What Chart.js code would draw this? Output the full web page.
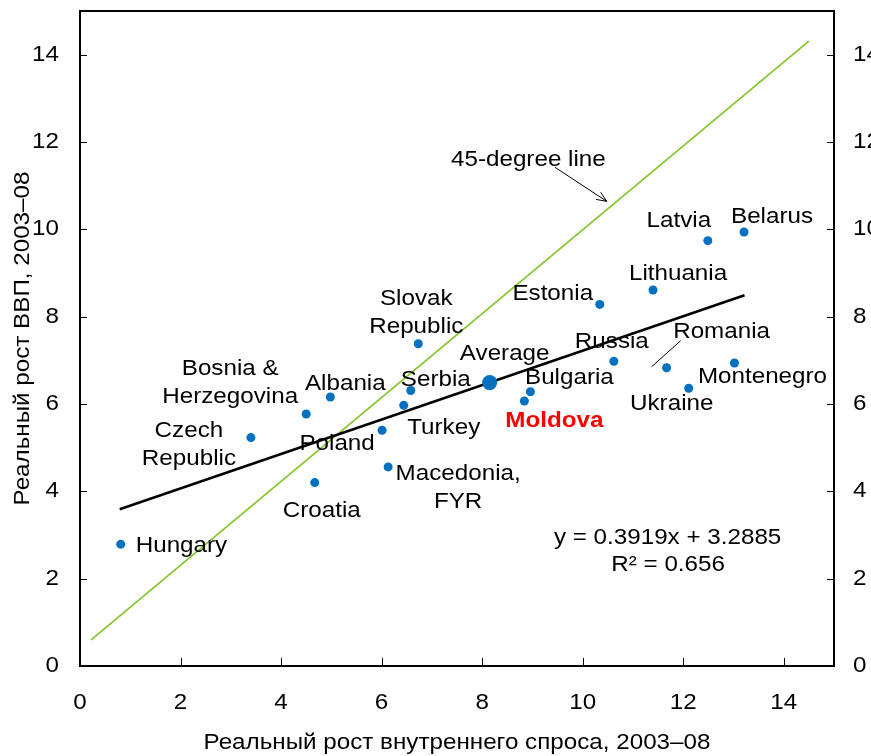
<!DOCTYPE html>
<html>
<head>
<meta charset="utf-8">
<script src="https://cdn.jsdelivr.net/npm/chart.js@4.4.1/dist/chart.umd.min.js"></script>
<style>
  html, body { margin: 0; padding: 0; background: #fff; }
  #wrap { width: 871px; height: 756px; }
</style>
</head>
<body>
<div id="wrap"><canvas id="chart"></canvas></div>
<script>
// Реальный рост внутреннего спроса (x) и ВВП (y), 2003–08
const countries = ['Hungary', 'Czech Republic', 'Bosnia & Herzegovina', 'Albania', 'Slovak Republic',
  'Serbia', 'Turkey', 'Poland', 'Macedonia, FYR', 'Croatia', 'Bulgaria', 'Moldova', 'Russia',
  'Romania', 'Ukraine', 'Montenegro', 'Estonia', 'Lithuania', 'Latvia', 'Belarus'];
const demandGrowth = [0.81, 3.40, 4.50, 4.98, 6.73, 6.58, 6.44, 6.01, 6.13, 4.67, 8.96, 8.84, 10.62,
  11.67, 12.11, 13.02, 10.34, 11.40, 12.49, 13.21];
const gdpGrowth = [2.79, 5.23, 5.77, 6.16, 7.38, 6.31, 5.97, 5.40, 4.56, 4.20, 6.28, 6.07, 6.98,
  6.83, 6.36, 6.94, 8.28, 8.61, 9.74, 9.94];

const averageX = [8.15];
const averageY = [6.49];

// линия тренда и линия 45 градусов (концы)
const trendX = [0.79, 13.22];
const trendY = [3.59, 8.49];
const diagX = [0.22, 14.50];
const diagY = [0.60, 14.31];

const xTicks = [0, 2, 4, 6, 8, 10, 12, 14];
const yTicks = [0, 2, 4, 6, 8, 10, 12, 14];

const xTitle = 'Реальный рост внутреннего спроса, 2003–08';
const yTitle = 'Реальный рост ВВП, 2003–08';
const equationText = 'y = 0.3919x + 3.2885';
const r2Text = 'R² = 0.656';
const diagText = '45-degree line';

// подписи стран: текст (по строкам) и сдвиг центра подписи от точки в пикселях
const labelLayout = {
  'Hungary': { lines: ['Hungary'], dx: 15, dy: 2, align: 'left' },
  'Czech Republic': { lines: ['Czech', 'Republic'], dx: -62, dy: 7 },
  'Bosnia & Herzegovina': { lines: ['Bosnia &', 'Herzegovina'], dx: -76, dy: -31 },
  'Albania': { lines: ['Albania'], dx: 15, dy: -13 },
  'Slovak Republic': { lines: ['Slovak', 'Republic'], dx: -2, dy: -31 },
  'Serbia': { lines: ['Serbia'], dx: 25, dy: -11 },
  'Turkey': { lines: ['Turkey'], dx: 40, dy: 23 },
  'Poland': { lines: ['Poland'], dx: -45, dy: 14 },
  'Macedonia, FYR': { lines: ['Macedonia,', 'FYR'], dx: 70, dy: 21 },
  'Croatia': { lines: ['Croatia'], dx: 7, dy: 28 },
  'Bulgaria': { lines: ['Bulgaria'], dx: 39, dy: -14 },
  'Moldova': { lines: ['Moldova'], dx: 30, dy: 20, bold: true, color: '#ff0000' },
  'Russia': { lines: ['Russia'], dx: -2, dy: -19 },
  'Romania': { lines: ['Romania'], dx: 55, dy: -36, leader: [-15, -1, 14, -27] },
  'Ukraine': { lines: ['Ukraine'], dx: -17, dy: 16 },
  'Montenegro': { lines: ['Montenegro'], dx: 28, dy: 14 },
  'Estonia': { lines: ['Estonia'], dx: -47, dy: -11 },
  'Lithuania': { lines: ['Lithuania'], dx: 25, dy: -16 },
  'Latvia': { lines: ['Latvia'], dx: -29, dy: -20 },
  'Belarus': { lines: ['Belarus'], dx: 28, dy: -15 }
};

const FONT = '"Liberation Sans", Arial, sans-serif';
const TXT = '22px ' + FONT;
const STRETCH = 1.1; // текст в оригинале чуть растянут по ширине
const BLUE = '#0070c0';
const GREEN = '#7dc41e';

function toPoints(xs, ys) {
  return xs.map((x, i) => ({ x: x, y: ys[i] }));
}

function drawText(ctx, text, x, y, align, font, color, rotate) {
  ctx.save();
  ctx.font = font || TXT;
  ctx.fillStyle = color || '#000';
  ctx.textAlign = align || 'center';
  ctx.textBaseline = 'middle';
  ctx.translate(x, y);
  if (rotate) ctx.rotate(rotate);
  ctx.scale(STRETCH, 1);
  ctx.fillText(text, 0, 0);
  ctx.restore();
}

const decorPlugin = {
  id: 'decor',
  afterDatasetsDraw(chart) {
    const ctx = chart.ctx;
    const area = chart.chartArea;
    const xs = chart.scales.x, ys = chart.scales.y;

    // рамка и внутренние засечки
    ctx.save();
    ctx.strokeStyle = '#000';
    ctx.lineWidth = 2;
    ctx.strokeRect(area.left, area.top, area.right - area.left, area.bottom - area.top);
    ctx.lineWidth = 1;
    ctx.beginPath();
    yTicks.forEach(v => {
      const py = Math.round(ys.getPixelForValue(v)) + 0.5;
      ctx.moveTo(area.left, py); ctx.lineTo(area.left + 7, py);
      ctx.moveTo(area.right - 7, py); ctx.lineTo(area.right, py);
    });
    xTicks.forEach(v => {
      const px = Math.round(xs.getPixelForValue(v)) + 0.5;
      ctx.moveTo(px, area.bottom); ctx.lineTo(px, area.bottom - 8);
    });
    ctx.stroke();
    ctx.restore();

    // подписи делений
    yTicks.forEach(v => {
      const py = ys.getPixelForValue(v);
      drawText(ctx, String(v), area.left - 21, py, 'right');
      drawText(ctx, String(v), area.right + 19, py, 'left');
    });
    xTicks.forEach(v => {
      drawText(ctx, String(v), xs.getPixelForValue(v), area.bottom + 37, 'center');
    });

    // названия осей
    drawText(ctx, xTitle, (area.left + area.right) / 2, 743, 'center');
    drawText(ctx, yTitle, 22.5, (area.top + area.bottom) / 2, 'center', TXT, '#000', -Math.PI / 2);

    // подписи стран
    const lineH = 28;
    countries.forEach((name, i) => {
      const cfg = labelLayout[name];
      const px = xs.getPixelForValue(demandGrowth[i]);
      const py = ys.getPixelForValue(gdpGrowth[i]);
      const font = (cfg.bold ? 'bold ' : '') + TXT;
      const n = cfg.lines.length;
      cfg.lines.forEach((line, k) => {
        const ly = py + cfg.dy + (k - (n - 1) / 2) * lineH;
        drawText(ctx, line, px + cfg.dx, ly, cfg.align, font, cfg.color);
      });
      if (cfg.leader) {
        ctx.save();
        ctx.strokeStyle = '#000';
        ctx.lineWidth = 1;
        ctx.beginPath();
        ctx.moveTo(px + cfg.leader[0], py + cfg.leader[1]);
        ctx.lineTo(px + cfg.leader[2], py + cfg.leader[3]);
        ctx.stroke();
        ctx.restore();
      }
    });

    // средняя
    drawText(ctx, 'Average', xs.getPixelForValue(averageX[0]) + 15,
      ys.getPixelForValue(averageY[0]) - 29, 'center');

    // 45-degree line с указателем
    drawText(ctx, diagText, xs.getPixelForValue(8.92), ys.getPixelForValue(11.58), 'center');
    const ax0 = xs.getPixelForValue(9.45), ay0 = ys.getPixelForValue(11.42);
    const ax1 = xs.getPixelForValue(10.48), ay1 = ys.getPixelForValue(10.64);
    const ang = Math.atan2(ay1 - ay0, ax1 - ax0);
    ctx.save();
    ctx.strokeStyle = '#000';
    ctx.lineWidth = 1;
    ctx.beginPath();
    ctx.moveTo(ax0, ay0); ctx.lineTo(ax1, ay1);
    ctx.moveTo(ax1 - 11 * Math.cos(ang - 0.4), ay1 - 11 * Math.sin(ang - 0.4));
    ctx.lineTo(ax1, ay1);
    ctx.lineTo(ax1 - 11 * Math.cos(ang + 0.4), ay1 - 11 * Math.sin(ang + 0.4));
    ctx.stroke();
    ctx.restore();

    // уравнение регрессии
    drawText(ctx, equationText, xs.getPixelForValue(11.69), ys.getPixelForValue(2.93), 'center');
    drawText(ctx, r2Text, xs.getPixelForValue(11.70), ys.getPixelForValue(2.31), 'center');
  }
};

function fixBox(w, h) {
  return s => {
    if (w !== null) s.width = w;
    if (h !== null) s.height = h;
    s.paddingTop = 0; s.paddingBottom = 0; s.paddingLeft = 0; s.paddingRight = 0;
  };
}

const hiddenAxis = {
  type: 'linear',
  min: 0,
  max: 15,
  grid: { display: false, drawTicks: false },
  border: { display: false },
  ticks: { display: false }
};

new Chart(document.getElementById('chart'), {
  type: 'scatter',
  data: {
    datasets: [
      {
        label: 'Average',
        data: toPoints(averageX, averageY),
        backgroundColor: BLUE,
        borderColor: BLUE,
        borderWidth: 0,
        pointRadius: 7.5
      },
      {
        label: 'Countries',
        data: toPoints(demandGrowth, gdpGrowth),
        backgroundColor: BLUE,
        borderColor: BLUE,
        borderWidth: 0,
        pointRadius: 4.5
      },
      {
        label: 'Trend',
        data: toPoints(trendX, trendY),
        showLine: true,
        borderColor: '#000',
        borderWidth: 2.5,
        pointRadius: 0
      },
      {
        label: '45-degree line',
        data: toPoints(diagX, diagY),
        showLine: true,
        borderColor: GREEN,
        borderWidth: 1.5,
        pointRadius: 0
      }
    ]
  },
  options: {
    responsive: true,
    maintainAspectRatio: false,
    animation: false,
    events: [],
    layout: { padding: { top: 11, left: 0, right: 0, bottom: 0 } },
    plugins: {
      legend: { display: false },
      tooltip: { enabled: false }
    },
    scales: {
      x: Object.assign({}, hiddenAxis, { position: 'bottom', afterFit: fixBox(null, 90) }),
      y: Object.assign({}, hiddenAxis, { position: 'left', afterFit: fixBox(80, null) }),
      y2: Object.assign({}, hiddenAxis, { position: 'right', afterFit: fixBox(37, null) })
    }
  },
  plugins: [decorPlugin]
});
</script>
</body>
</html>
